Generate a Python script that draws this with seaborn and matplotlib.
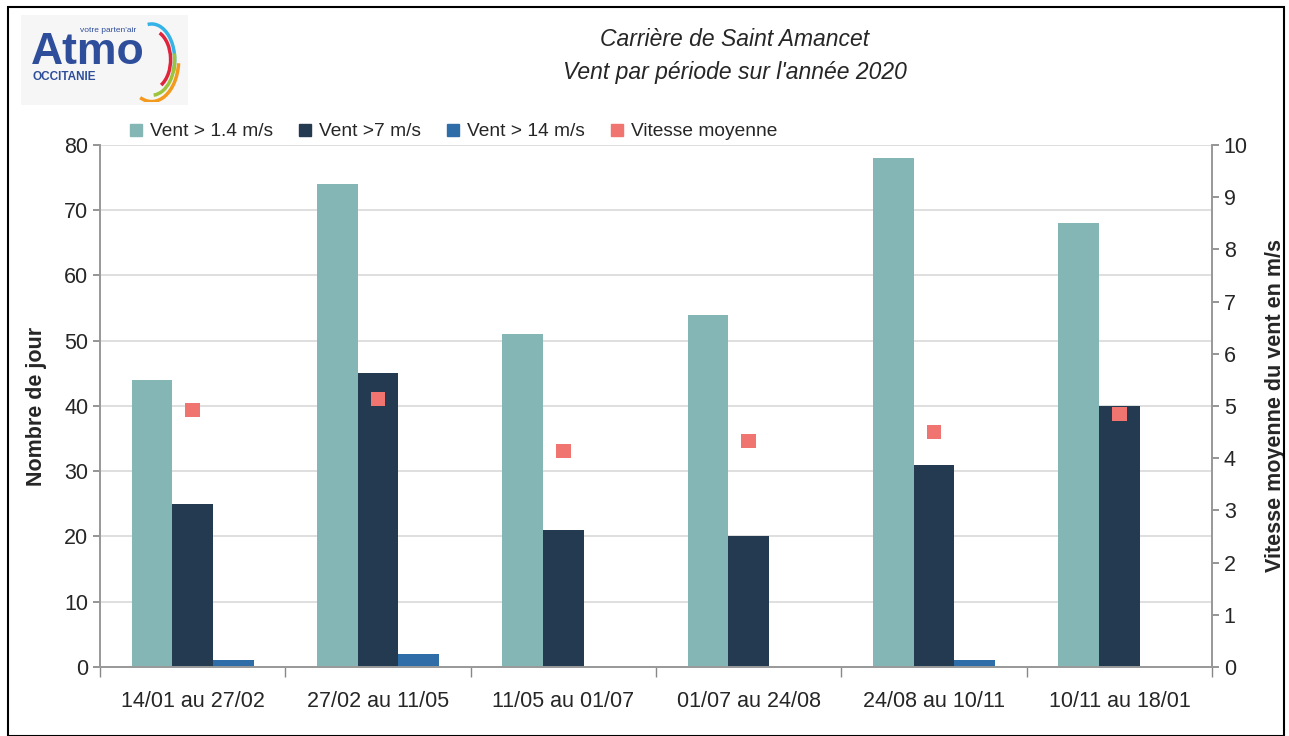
import pandas as pd
import seaborn as sns
import matplotlib.pyplot as plt
from matplotlib.patches import Arc, Rectangle
from matplotlib.lines import Line2D

periods = ['14/01 au 27/02', '27/02 au 11/05', '11/05 au 01/07',
           '01/07 au 24/08', '24/08 au 10/11', '10/11 au 18/01']
vent_14 = [44, 74, 51, 54, 78, 68]
vent_7 = [25, 45, 21, 20, 31, 40]
vent_140 = [1, 2, 0, 0, 1, 0]
vitesse = [4.92, 5.13, 4.14, 4.33, 4.50, 4.85]
series = ['Vent > 1.4 m/s', 'Vent >7 m/s', 'Vent > 14 m/s']
colors = ['#85b6b6', '#243a51', '#2e6da8']
point_color = '#f07470'

sns.set_theme(style='white')
plt.rcParams['font.family'] = ['Liberation Sans', 'DejaVu Sans']

df = pd.DataFrame({
    'periode': periods * 3,
    'serie': [s for s in series for _ in periods],
    'jours': vent_14 + vent_7 + vent_140,
})

fig = plt.figure(figsize=(12.89, 7.36), dpi=100)
ax = fig.add_axes([0.0776, 0.0938, 0.8627, 0.7092])

sns.barplot(data=df, x='periode', y='jours', hue='serie', palette=colors,
            width=0.66, ax=ax, legend=False, edgecolor='none', saturation=1)

ax.set_ylim(0, 80)
ax.set_yticks(range(0, 81, 10))
ax.set_xlim(-0.5, len(periods) - 0.5)
ax.yaxis.grid(True, color='#d9d9d9', lw=1.2)
ax.set_axisbelow(True)
ax.set_xlabel('')
ax.set_ylabel('Nombre de jour', fontsize=15.5, fontweight='bold', color='#262626', labelpad=12)
ax.tick_params(axis='y', labelsize=15.5, left=True, length=5, color='#888888', labelcolor='#262626')
ax.tick_params(axis='x', labelsize=15.5, length=0, pad=17, labelcolor='#262626')
ax.set_xticks([i + 0.5 for i in range(-1, len(periods))], minor=True)
ax.tick_params(axis='x', which='minor', bottom=True, length=7, color='#888888')
for s in ['left', 'right', 'bottom']:
    ax.spines[s].set_color('#999999')
ax.spines['top'].set_visible(False)

ax2 = ax.twinx()
sns.scatterplot(x=periods, y=vitesse, marker='s', s=110, color=point_color,
                edgecolor='none', ax=ax2)
ax2.set_ylim(0, 10)
ax2.set_yticks(range(0, 11))
ax2.set_ylabel('Vitesse moyenne du vent en m/s', fontsize=15.5, fontweight='bold',
               color='#262626', labelpad=12)
ax2.tick_params(axis='y', labelsize=15.5, right=True, length=5, color='#888888', labelcolor='#262626')
for s in ['left', 'right', 'bottom']:
    ax2.spines[s].set_color('#999999')
ax2.spines['top'].set_visible(False)
ax.set_xlim(-0.5, len(periods) - 0.5)

handles = [Line2D([], [], marker='s', ls='none', markersize=9, color=c) for c in colors]
handles.append(Line2D([], [], marker='s', ls='none', markersize=9, color=point_color))
fig.legend(handles, series + ['Vitesse moyenne'], loc='center left',
           bbox_to_anchor=(0.087, 0.821), ncol=4, frameon=False, fontsize=13.8,
           handlelength=0.7, handletextpad=0.35, columnspacing=1.35, labelcolor='#262626')

fig.text(0.570, 0.946, 'Carrière de Saint Amancet', ha='center', va='center',
         fontsize=16.5, style='italic', color='#262626')
fig.text(0.570, 0.901, "Vent par période sur l'année 2020", ha='center', va='center',
         fontsize=16.5, style='italic', color='#262626')

# logo
fig.patches.append(Rectangle((0.016, 0.857), 0.13, 0.123, transform=fig.transFigure,
                             facecolor='#f6f6f6', edgecolor='none', zorder=-1))
fig.text(0.024, 0.928, 'Atmo', fontsize=32, fontweight='bold', color='#2e4e9c', va='center')
fig.text(0.025, 0.895, 'OCCITANIE', fontsize=8.5, fontweight='bold', color='#2e4e9c', va='center')
fig.text(0.062, 0.958, "votre parten'air", fontsize=6, color='#2e4e9c', va='center')
arc_ax = fig.add_axes([0.104, 0.862, 0.042, 0.114])
arc_ax.set_xlim(-1, 1)
arc_ax.set_ylim(-1, 1)
arc_ax.axis('off')
for r, t1, t2, c in [(0.85, -20, 100, '#36b3e6'), (0.7, -60, 65, '#e0243c'),
                     (0.85, -85, 10, '#9cc43c'), (1.0, -115, -5, '#f39a1e')]:
    arc_ax.add_patch(Arc((-0.35, 0), 2 * r, 2 * r, theta1=t1, theta2=t2, color=c, lw=2.5))

fig.patches.append(Rectangle((0.006, 0.0), 0.99, 0.99, transform=fig.transFigure,
                             facecolor='none', edgecolor='black', lw=1.5))

fig.savefig('out.png', dpi=100)
